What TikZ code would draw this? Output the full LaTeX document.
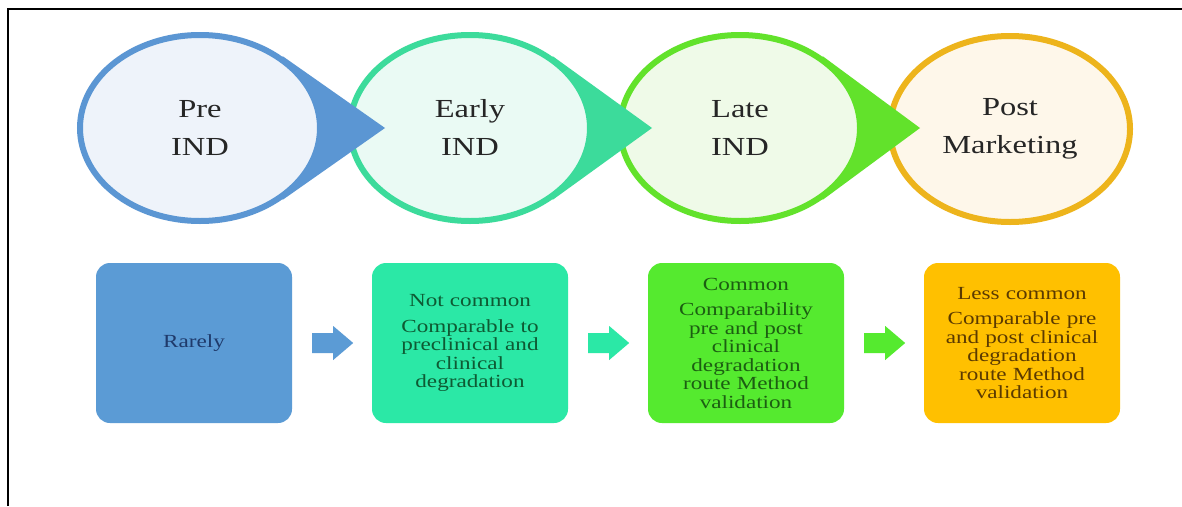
\documentclass[tikz,border=0pt]{standalone}
\usepackage{fontspec}
\setmainfont{Liberation Serif}[FakeStretch=1.25]
\usetikzlibrary{shapes.geometric,calc}
\definecolor{preO}{HTML}{5B96D3}
\definecolor{preF}{HTML}{EEF3FA}
\definecolor{earO}{HTML}{3CDB9B}
\definecolor{earF}{HTML}{EAFAF4}
\definecolor{latO}{HTML}{62E22B}
\definecolor{latF}{HTML}{EFFAE8}
\definecolor{posO}{HTML}{EDB41C}
\definecolor{posF}{HTML}{FEF7EA}
\definecolor{boxA}{HTML}{5B9BD5}
\definecolor{boxB}{HTML}{2BE8A6}
\definecolor{boxC}{HTML}{55EA2F}
\definecolor{boxD}{HTML}{FFC000}
\definecolor{txtA}{HTML}{1F3A6B}
\definecolor{txtB}{HTML}{0E5A33}
\definecolor{txtC}{HTML}{1C5E12}
\definecolor{txtD}{HTML}{5B3A00}
\begin{document}
\begin{tikzpicture}[x=1pt,y=-1pt,
  stage/.style={ellipse, draw, minimum width=240, minimum height=186, line width=6,
    inner sep=0, align=center, font=\fontsize{26}{38}\selectfont, text=black!85},
  box/.style={rounded corners=14, minimum width=196, minimum height=160, inner sep=0,
    text width=188, align=center, font=\fontsize{18.5}{18.5}\selectfont},
  blockarrow/.style={}
]
\useasboundingbox (0,0) rectangle (1182,506);
\fill[white] (0,0) rectangle (1182,506);
\draw[line width=2] (8,506) -- (8,9) -- (1182,9);

% stage centres
\coordinate (p1) at (200,128);
\coordinate (p2) at (470,128);
\coordinate (p3) at (740,128);
\coordinate (p4) at (1010,129);

\node[stage, draw=posO, fill=posF] (c4) at (p4) {Post\\Marketing};
\fill[latO] ($(p3)+(82.7,-71.8)$) -- ($(p3)+(180,0)$) -- ($(p3)+(82.7,71.8)$) -- cycle;
\node[stage, draw=latO, fill=latF] (c3) at (p3) {Late\\IND};
\fill[earO] ($(p2)+(82.7,-71.8)$) -- ($(p2)+(182,0)$) -- ($(p2)+(82.7,71.8)$) -- cycle;
\node[stage, draw=earO, fill=earF] (c2) at (p2) {Early\\IND};
\fill[preO] ($(p1)+(82.7,-71.8)$) -- ($(p1)+(185,0)$) -- ($(p1)+(82.7,71.8)$) -- cycle;
\node[stage, draw=preO, fill=preF] (c1) at (p1) {Pre\\IND};

% boxes
\node[box, fill=boxA, text=txtA] (b1) at (194,343) {Rarely};
\node[box, fill=boxB, text=txtB] (b2) at (470,343) {Not common\\[7pt]Comparable to\\preclinical and\\clinical\\degradation};
\node[box, fill=boxC, text=txtC] (b3) at (746,343) {Common\\[7pt]Comparability\\pre and post\\clinical\\degradation\\route Method\\validation};
\node[box, fill=boxD, text=txtD] (b4) at (1022,343) {Less common\\[7pt]Comparable pre\\and post clinical\\degradation\\route Method\\validation};

% block arrows between boxes
\foreach \a/\b/\c in {b1/b2/boxA, b2/b3/boxB, b3/b4/boxC}{
  \fill[\c] ($(\a.east)+(20,-10)$) -- ++(21,0) -- ++(0,-7) -- ++(20,17) -- ++(-20,17)
    -- ++(0,-7) -- ++(-21,0) -- cycle;
}
\end{tikzpicture}
\end{document}
